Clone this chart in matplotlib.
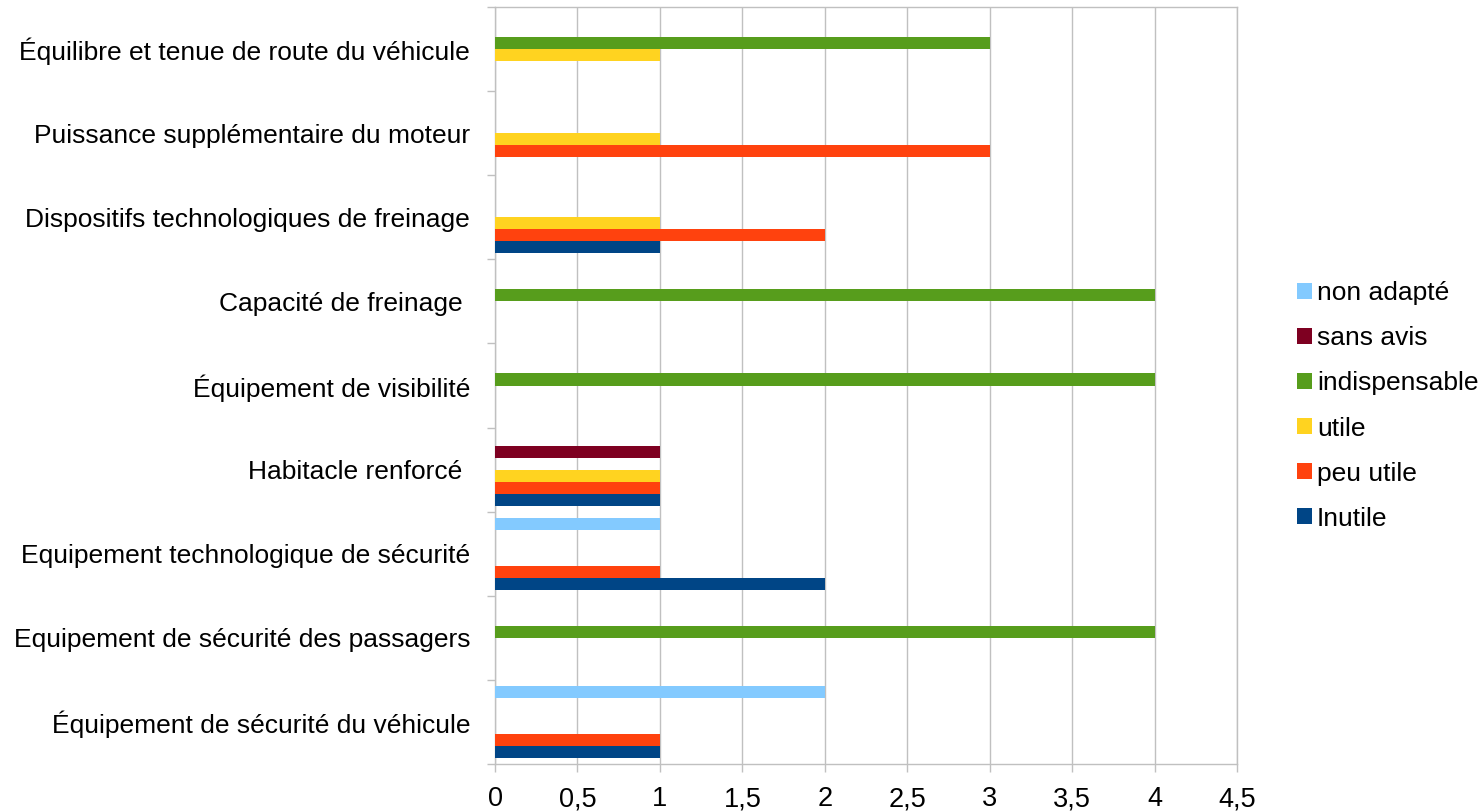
import matplotlib
matplotlib.use("Agg")
import matplotlib.pyplot as plt
import numpy as np

plt.rcParams['font.family'] = ['Liberation Sans', 'DejaVu Sans']

categories = [
    "Équipement de sécurité du véhicule",
    "Equipement de sécurité des passagers",
    "Equipement technologique de sécurité",
    "Habitacle renforcé ",
    "Équipement de visibilité",
    "Capacité de freinage ",
    "Dispositifs technologiques de freinage",
    "Puissance supplémentaire du moteur",
    "Équilibre et tenue de route du véhicule",
]
series_names = ["Inutile", "peu utile", "utile", "indispensable", "sans avis", "non adapté"]
colors = ["#004586", "#FF420E", "#FFD320", "#579D1C", "#7E0021", "#83CAFF"]

inutile       = [1, 0, 2, 1, 0, 0, 1, 0, 0]
peu_utile     = [1, 0, 1, 1, 0, 0, 2, 3, 0]
utile         = [0, 0, 0, 1, 0, 0, 1, 1, 1]
indispensable = [0, 4, 0, 0, 4, 4, 0, 0, 3]
sans_avis     = [0, 0, 0, 1, 0, 0, 0, 0, 0]
non_adapte    = [2, 0, 1, 0, 0, 0, 0, 0, 0]
series = [inutile, peu_utile, utile, indispensable, sans_avis, non_adapte]

xticks = [0, 0.5, 1, 1.5, 2, 2.5, 3, 3.5, 4, 4.5]
xtick_labels = ["0", "0,5", "1", "1,5", "2", "2,5", "3", "3,5", "4", "4,5"]

fig = plt.figure(figsize=(14.8, 8.11), dpi=100)
ax = fig.add_axes([495/1480, 1 - 764/811, (1237-495)/1480, (764-7)/811])

n = len(series)
h = 0.143
y = np.arange(len(categories))
handles = []
for i, (vals, name, c) in enumerate(zip(series, series_names, colors)):
    offs = (i - (n - 1) / 2) * h
    b = ax.barh(y + offs, vals, height=h, color=c, label=name, zorder=3)
    handles.append(b)

grid_c = '#c0c0c0'
ax.set_xlim(0, 4.5)
ax.set_ylim(-0.5, len(categories) - 0.5)
ax.set_xticks(xticks)
ax.set_xticklabels(xtick_labels, fontsize=19.5)
ax.set_yticks(np.arange(-0.5, len(categories) - 0.4, 1.0))
ax.set_yticklabels([])
ax.set_yticks(y, minor=True)
ax.set_yticklabels(categories, minor=True, fontsize=19)
ax.tick_params(axis='y', which='minor', length=0, pad=18)
ax.tick_params(axis='y', which='major', length=6, color=grid_c, width=1.0)
ax.tick_params(axis='x', length=6, color=grid_c, width=1.0, pad=10)
ax.grid(axis='x', color=grid_c, linewidth=1.0, zorder=0)
for s in ax.spines.values():
    s.set_color(grid_c)
    s.set_linewidth(1.0)

leg = fig.legend(handles[::-1], series_names[::-1], loc='center left',
                 bbox_to_anchor=(1297/1480, 1 - 406/811), frameon=False,
                 fontsize=19, handlelength=0.55, handleheight=0.55,
                 handletextpad=0.2, labelspacing=0.8, borderpad=0,
                 borderaxespad=0)

fig.savefig("out.png", dpi=100)
